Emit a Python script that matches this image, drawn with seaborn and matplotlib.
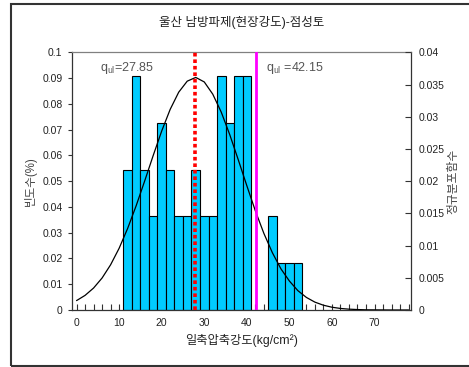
import matplotlib
matplotlib.use("Agg")
import matplotlib.pyplot as plt
import matplotlib.patches as mpatches
from matplotlib.ticker import MultipleLocator, FuncFormatter
import seaborn as sns
import pandas as pd

# Histogram bins of unconfined compressive strength (kg/cm2), width 2
bin_edges = [11, 13, 15, 17, 19, 21, 23, 25, 27, 29, 31, 33, 35, 37, 39, 41, 43, 45, 47, 49, 51, 53]
bin_centers = [12, 14, 16, 18, 20, 22, 24, 26, 28, 30, 32, 34, 36, 38, 40, 42, 44, 46, 48, 50, 52]
rel_freq = [0.0545, 0.0909, 0.0545, 0.0364, 0.0727, 0.0545, 0.0364, 0.0364, 0.0545, 0.0364,
            0.0364, 0.0909, 0.0727, 0.0909, 0.0909, 0.0, 0.0, 0.0364, 0.0182, 0.0182, 0.0182]

# Normal distribution function curve (right axis)
curve_x = [0, 2, 4, 6, 8, 10, 12, 14, 16, 18, 20, 22, 24, 26, 28, 30, 32, 34, 36, 38,
           40, 42, 44, 46, 48, 50, 52, 54, 56, 58, 60, 62, 64, 66, 68, 70, 72, 74, 76, 78]
curve_y = [0.00146, 0.00227, 0.00341, 0.00497, 0.00702, 0.00958, 0.01266, 0.01618, 0.02002, 0.02397,
           0.02778, 0.03115, 0.03381, 0.03552, 0.03610, 0.03540, 0.03350, 0.03070, 0.02720, 0.02330,
           0.01930, 0.01540, 0.01190, 0.00890, 0.00640, 0.00450, 0.00300, 0.00195, 0.00122, 0.00074,
           0.00043, 0.00024, 0.00013, 0.00007, 0.00003, 0.00002, 0.00001, 0.0, 0.0, 0.0]

q_lower = 27.85
q_upper = 42.15

title = "울산 남방파제(현장강도)-점성토"
xlabel = "일축압축강도(kg/cm²)"
ylabel_left = "빈도수(%)"
ylabel_right = "정규분포함수"

sns.set_theme(style="white")
plt.rcParams["font.family"] = ["Liberation Sans", "Noto Sans CJK KR", "DejaVu Sans"]
plt.rcParams["mathtext.fontset"] = "custom"
plt.rcParams["mathtext.rm"] = "Liberation Sans"
plt.rcParams["mathtext.it"] = "Liberation Sans:italic"

fs = 7.5
txt = "#222222"

fig = plt.figure(figsize=(4.69, 3.67), dpi=100)
fig.patch.set_facecolor("white")

# outer chart frame
frame = mpatches.Rectangle((10.5 / 469, 1 - 365.5 / 367), (480 - 10.5) / 469, (365.5 - 4) / 367,
                           transform=fig.transFigure, fill=False, edgecolor="#333333",
                           linewidth=1.5, clip_on=False)
fig.patches.append(frame)

ax = fig.add_axes([72.3 / 469, 1 - 310 / 367, (410.7 - 72.3) / 469, (310 - 52.3) / 367])

df = pd.DataFrame({"strength": bin_centers, "freq": rel_freq})
sns.histplot(data=df, x="strength", weights="freq", bins=bin_edges, stat="count",
             color="#00CCFF", edgecolor="black", linewidth=0.8, alpha=1.0, ax=ax)

ax.set_xlim(-1, 78.5)
ax.set_ylim(0, 0.1)
ax.xaxis.set_major_locator(MultipleLocator(10))
ax.xaxis.set_minor_locator(MultipleLocator(2))
ax.yaxis.set_major_locator(MultipleLocator(0.01))
fmt = FuncFormatter(lambda v, p: f"{v:g}" if abs(v) > 1e-12 else "0")
ax.yaxis.set_major_formatter(fmt)
ax.set_xticks(range(0, 71, 10))
ax.tick_params(axis="x", which="both", direction="in", length=4, width=0.8,
               bottom=True, pad=6, labelsize=fs, colors="#333333", labelcolor=txt)
ax.tick_params(axis="y", which="major", direction="out", length=3, width=0.8,
               left=True, pad=4, labelsize=fs, colors="#333333", labelcolor=txt)
ax.set_xlabel(xlabel, fontsize=8.8, color=txt, labelpad=4)
ax.set_ylabel(ylabel_left, fontsize=8.3, color="#444444", labelpad=4)
for s in ax.spines.values():
    s.set_color("#333333")
    s.set_linewidth(0.9)
ax.spines["top"].set_color("#808080")

ax2 = ax.twinx()
sns.lineplot(x=curve_x, y=curve_y, ax=ax2, color="black", linewidth=0.9)
ax2.set_ylim(0, 0.04)
ax2.yaxis.set_major_locator(MultipleLocator(0.005))
ax2.yaxis.set_major_formatter(fmt)
ax2.tick_params(axis="y", which="major", direction="in", length=4, width=0.8,
                right=True, pad=6, labelsize=fs, colors="#333333", labelcolor=txt)
ax2.set_ylabel(ylabel_right, fontsize=8.5, color="#444444", rotation=90, labelpad=2)
ax2.set_xlabel("")
ax2.grid(False)
ax.grid(False)
for s in ax2.spines.values():
    s.set_visible(False)

# reference strength lines
ax2.axvline(q_lower, color="#FF0000", linewidth=2.6, linestyle=(0, (1, 0.8)))
ax2.axvline(q_upper, color="#FF00FF", linewidth=2.0)
ax2.text(5.5, 0.0375, f"q$_{{\\mathrm{{ul}}}}$={q_lower}", fontsize=9, color="#555555",
         ha="left", va="center")
ax2.text(44.5, 0.0375, f"q$_{{\\mathrm{{ul}}}}$ ={q_upper}", fontsize=9, color="#555555",
         ha="left", va="center")

fig.text(241.5 / 469, 1 - 22 / 367, title, fontsize=9, color=txt, ha="center", va="center")

fig.savefig("out.png", dpi=100)
